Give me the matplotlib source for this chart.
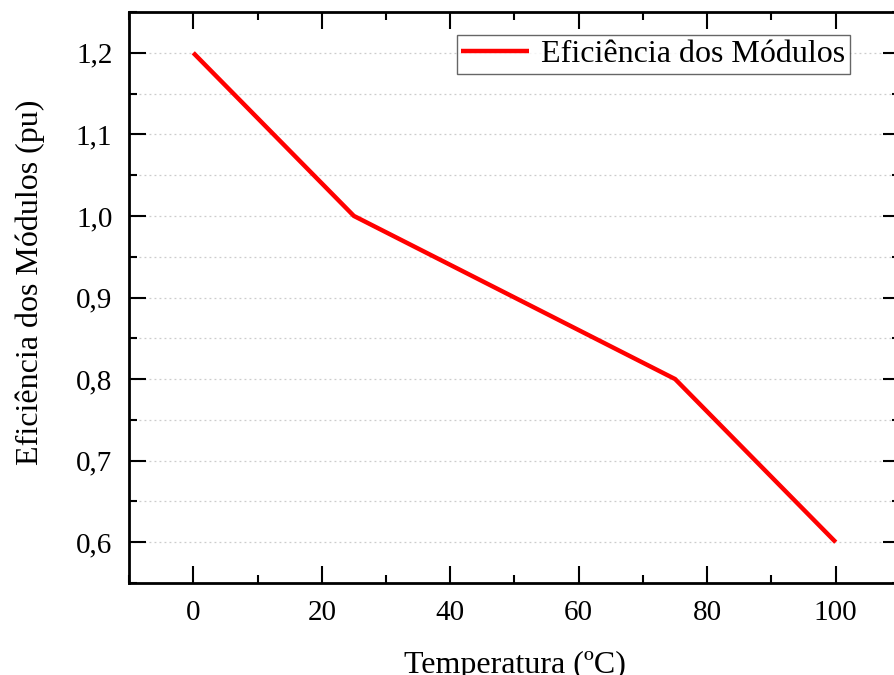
import matplotlib
matplotlib.use("Agg")
import matplotlib.pyplot as plt
from matplotlib.ticker import MultipleLocator, FuncFormatter

# data
temperatura = [0, 25, 75, 100]
eficiencia = [1.2, 1.0, 0.8, 0.6]

plt.rcParams['font.family'] = ['Liberation Serif', 'DejaVu Serif']

fig = plt.figure(figsize=(8.94, 6.75), dpi=100)
ax = fig.add_axes([0.1443, 0.1363, 0.8624, 0.8459])

ax.plot(temperatura, eficiencia, color='#ff0000', linewidth=3.2,
        label='Eficiência dos Módulos', solid_capstyle='butt')

ax.set_xlim(-10, 110)
ax.set_ylim(0.55, 1.25)

ax.xaxis.set_major_locator(MultipleLocator(20))
ax.xaxis.set_minor_locator(MultipleLocator(10))
ax.yaxis.set_major_locator(MultipleLocator(0.1))
ax.yaxis.set_minor_locator(MultipleLocator(0.05))
ax.yaxis.set_major_formatter(FuncFormatter(lambda v, p: '{:.1f}'.format(v).replace('.', ',')))

ax.grid(True, which='both', axis='y', color='#cccccc', linestyle=(0, (1.5, 2.5)), linewidth=0.9)
ax.set_axisbelow(True)

ax.tick_params(which='both', direction='in', top=True, right=True, width=1.5, labelsize=21)
ax.tick_params(which='major', length=12, pad=12)
ax.tick_params(which='minor', length=6)
for s in ax.spines.values():
    s.set_linewidth(2)

ax.set_xlabel('Temperatura (ºC)', fontsize=23, labelpad=18)
ax.set_ylabel('Eficiência dos Módulos (pu)', fontsize=23)
ax.yaxis.set_label_coords(-0.109, 0.527)

leg = ax.legend(loc='upper right', bbox_to_anchor=(0.9355, 0.96), fontsize=23,
                frameon=True, fancybox=False, edgecolor='#404040',
                handlelength=2.1, handletextpad=0.4, borderpad=0.15, borderaxespad=0)
leg.get_frame().set_linewidth(1.0)

fig.savefig('out.png', dpi=100)
